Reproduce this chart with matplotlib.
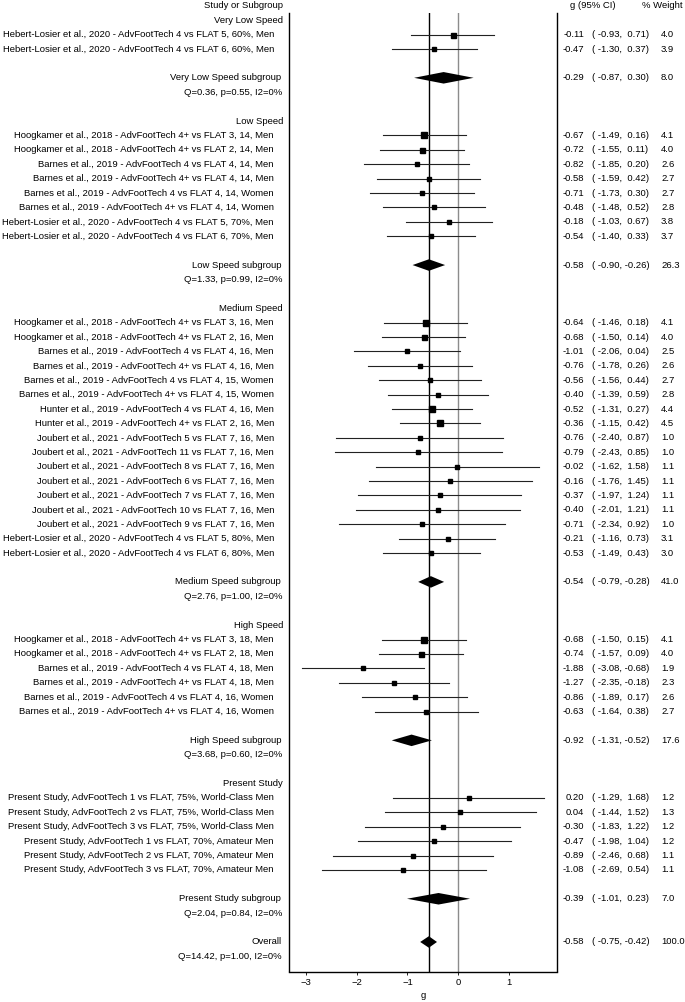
import matplotlib
matplotlib.use('Agg')
from matplotlib import pyplot as plt
from matplotlib import transforms

plt.rcParams['font.family'] = ['Liberation Sans', 'DejaVu Sans']

group_names = ['Very Low Speed', 'Low Speed', 'Medium Speed', 'High Speed', 'Present Study']

very_low_labels = [
    'Hebert-Losier et al., 2020 - AdvFootTech 4 vs FLAT 5, 60%, Men',
    'Hebert-Losier et al., 2020 - AdvFootTech 4 vs FLAT 6, 60%, Men',
]
very_low_g = [-0.11, -0.47]
very_low_lo = [-0.93, -1.30]
very_low_hi = [0.71, 0.37]
very_low_w = [4.0, 3.9]

low_labels = [
    'Hoogkamer et al., 2018 - AdvFootTech 4+ vs FLAT 3, 14, Men',
    'Hoogkamer et al., 2018 - AdvFootTech 4+ vs FLAT 2, 14, Men',
    'Barnes et al., 2019 - AdvFootTech 4 vs FLAT 4, 14, Men',
    'Barnes et al., 2019 - AdvFootTech 4+ vs FLAT 4, 14, Men',
    'Barnes et al., 2019 - AdvFootTech 4 vs FLAT 4, 14, Women',
    'Barnes et al., 2019 - AdvFootTech 4+ vs FLAT 4, 14, Women',
    'Hebert-Losier et al., 2020 - AdvFootTech 4 vs FLAT 5, 70%, Men',
    'Hebert-Losier et al., 2020 - AdvFootTech 4 vs FLAT 6, 70%, Men',
]
low_g = [-0.67, -0.72, -0.82, -0.58, -0.71, -0.48, -0.18, -0.54]
low_lo = [-1.49, -1.55, -1.85, -1.59, -1.73, -1.48, -1.03, -1.40]
low_hi = [0.16, 0.11, 0.20, 0.42, 0.30, 0.52, 0.67, 0.33]
low_w = [4.1, 4.0, 2.6, 2.7, 2.7, 2.8, 3.8, 3.7]

medium_labels = [
    'Hoogkamer et al., 2018 - AdvFootTech 4+ vs FLAT 3, 16, Men',
    'Hoogkamer et al., 2018 - AdvFootTech 4+ vs FLAT 2, 16, Men',
    'Barnes et al., 2019 - AdvFootTech 4 vs FLAT 4, 16, Men',
    'Barnes et al., 2019 - AdvFootTech 4+ vs FLAT 4, 16, Men',
    'Barnes et al., 2019 - AdvFootTech 4 vs FLAT 4, 15, Women',
    'Barnes et al., 2019 - AdvFootTech 4+ vs FLAT 4, 15, Women',
    'Hunter et al., 2019 - AdvFootTech 4 vs FLAT 4, 16, Men',
    'Hunter et al., 2019 - AdvFootTech 4+ vs FLAT 2, 16, Men',
    'Joubert et al., 2021 - AdvFootTech 5 vs FLAT 7, 16, Men',
    'Joubert et al., 2021 - AdvFootTech 11 vs FLAT 7, 16, Men',
    'Joubert et al., 2021 - AdvFootTech 8 vs FLAT 7, 16, Men',
    'Joubert et al., 2021 - AdvFootTech 6 vs FLAT 7, 16, Men',
    'Joubert et al., 2021 - AdvFootTech 7 vs FLAT 7, 16, Men',
    'Joubert et al., 2021 - AdvFootTech 10 vs FLAT 7, 16, Men',
    'Joubert et al., 2021 - AdvFootTech 9 vs FLAT 7, 16, Men',
    'Hebert-Losier et al., 2020 - AdvFootTech 4 vs FLAT 5, 80%, Men',
    'Hebert-Losier et al., 2020 - AdvFootTech 4 vs FLAT 6, 80%, Men',
]
medium_g = [-0.64, -0.68, -1.01, -0.76, -0.56, -0.40, -0.52, -0.36, -0.76,
            -0.79, -0.02, -0.16, -0.37, -0.40, -0.71, -0.21, -0.53]
medium_lo = [-1.46, -1.50, -2.06, -1.78, -1.56, -1.39, -1.31, -1.15, -2.40,
             -2.43, -1.62, -1.76, -1.97, -2.01, -2.34, -1.16, -1.49]
medium_hi = [0.18, 0.14, 0.04, 0.26, 0.44, 0.59, 0.27, 0.42, 0.87,
             0.85, 1.58, 1.45, 1.24, 1.21, 0.92, 0.73, 0.43]
medium_w = [4.1, 4.0, 2.5, 2.6, 2.7, 2.8, 4.4, 4.5, 1.0,
            1.0, 1.1, 1.1, 1.1, 1.1, 1.0, 3.1, 3.0]

high_labels = [
    'Hoogkamer et al., 2018 - AdvFootTech 4+ vs FLAT 3, 18, Men',
    'Hoogkamer et al., 2018 - AdvFootTech 4+ vs FLAT 2, 18, Men',
    'Barnes et al., 2019 - AdvFootTech 4 vs FLAT 4, 18, Men',
    'Barnes et al., 2019 - AdvFootTech 4+ vs FLAT 4, 18, Men',
    'Barnes et al., 2019 - AdvFootTech 4 vs FLAT 4, 16, Women',
    'Barnes et al., 2019 - AdvFootTech 4+ vs FLAT 4, 16, Women',
]
high_g = [-0.68, -0.74, -1.88, -1.27, -0.86, -0.63]
high_lo = [-1.50, -1.57, -3.08, -2.35, -1.89, -1.64]
high_hi = [0.15, 0.09, -0.68, -0.18, 0.17, 0.38]
high_w = [4.1, 4.0, 1.9, 2.3, 2.6, 2.7]

present_labels = [
    'Present Study, AdvFootTech 1 vs FLAT, 75%, World-Class Men',
    'Present Study, AdvFootTech 2 vs FLAT, 75%, World-Class Men',
    'Present Study, AdvFootTech 3 vs FLAT, 75%, World-Class Men',
    'Present Study, AdvFootTech 1 vs FLAT, 70%, Amateur Men',
    'Present Study, AdvFootTech 2 vs FLAT, 70%, Amateur Men',
    'Present Study, AdvFootTech 3 vs FLAT, 70%, Amateur Men',
]
present_g = [0.20, 0.04, -0.30, -0.47, -0.89, -1.08]
present_lo = [-1.29, -1.44, -1.83, -1.98, -2.46, -2.69]
present_hi = [1.68, 1.52, 1.22, 1.04, 0.68, 0.54]
present_w = [1.2, 1.3, 1.2, 1.2, 1.1, 1.1]

# subgroup summaries
sub_g = [-0.29, -0.58, -0.54, -0.92, -0.39]
sub_lo = [-0.87, -0.90, -0.79, -1.31, -1.01]
sub_hi = [0.30, -0.26, -0.28, -0.52, 0.23]
sub_w = [8.0, 26.3, 41.0, 17.6, 7.0]
sub_het = ['Q=0.36, p=0.55, I2=0%', 'Q=1.33, p=0.99, I2=0%', 'Q=2.76, p=1.00, I2=0%',
           'Q=3.68, p=0.60, I2=0%', 'Q=2.04, p=0.84, I2=0%']

overall_g = -0.58
overall_lo = -0.75
overall_hi = -0.42
overall_w = 100.0
overall_het = 'Q=14.42, p=1.00, I2=0%'

groups = [
    (very_low_labels, very_low_g, very_low_lo, very_low_hi, very_low_w),
    (low_labels, low_g, low_lo, low_hi, low_w),
    (medium_labels, medium_g, medium_lo, medium_hi, medium_w),
    (high_labels, high_g, high_lo, high_hi, high_w),
    (present_labels, present_g, present_lo, present_hi, present_w),
]

W, H = 685, 1002
fig = plt.figure(figsize=(W / 100, H / 100), dpi=100)
ax = fig.add_axes([289 / W, 1 - 971.5 / H, (557 - 289) / W, (971.5 - 13) / H])

fs = 6.8
tr = transforms.blended_transform_factory(fig.transFigure, ax.transData)


def px(x):
    return x / W


def ci_text(g, lo, hi):
    return f'{g:.2f}', f'({lo:6.2f},{hi:6.2f})'


def right_cols(row, g, lo, hi, w):
    est, ci = ci_text(g, lo, hi)
    ax.text(px(584), row, est, transform=tr, ha='right', va='center', fontsize=fs)
    ax.text(px(592), row, ci, transform=tr, ha='left', va='center', fontsize=fs)
    ax.text(px(661), row, f'{w:.1f}', transform=tr, ha='left', va='center', fontsize=fs)


def diamond(row, g, lo, hi, h=0.4):
    ax.fill([lo, g, hi, g], [row, row - h, row, row + h], color='black', lw=0, zorder=4)


ax.text(px(283), 0, 'Study or Subgroup', transform=tr, ha='right', va='center', fontsize=fs)
ax.text(px(570), 0, 'g (95% CI)', transform=tr, ha='left', va='center', fontsize=fs)
ax.text(px(642), 0, '% Weight', transform=tr, ha='left', va='center', fontsize=fs)

row = 1
for k, (labels, g, lo, hi, w) in enumerate(groups):
    ax.text(px(283), row, group_names[k], transform=tr, ha='right', va='center', fontsize=fs)
    row += 1
    for i in range(len(labels)):
        ax.text(px(274), row, labels[i], transform=tr, ha='right', va='center', fontsize=fs)
        ax.plot([lo[i], hi[i]], [row, row], color='#222222', lw=0.8, zorder=3)
        ax.plot(g[i], row, 's', color='black', ms=2.2 + 0.35 * w[i], zorder=5)
        right_cols(row, g[i], lo[i], hi[i], w[i])
        row += 1
    row += 1
    ax.text(px(281), row, group_names[k] + ' subgroup', transform=tr, ha='right',
            va='center', fontsize=fs)
    diamond(row, sub_g[k], sub_lo[k], sub_hi[k])
    right_cols(row, sub_g[k], sub_lo[k], sub_hi[k], sub_w[k])
    row += 1
    ax.text(px(282), row, sub_het[k], transform=tr, ha='right', va='center', fontsize=fs)
    row += 2

ax.text(px(282), row, 'Overall', transform=tr, ha='right', va='center', fontsize=fs)
diamond(row, overall_g, overall_lo, overall_hi)
right_cols(row, overall_g, overall_lo, overall_hi, overall_w)
ax.text(px(282), row + 1, overall_het, transform=tr, ha='right', va='center', fontsize=fs)

ax.axvline(overall_g, color='black', lw=1.0, zorder=2)
ax.axvline(0, color='#8c8c8c', lw=1.0, zorder=2)

ax.set_xlim(-3.33, 1.94)
ax.set_ylim(67.05, 0.5)
ax.set_yticks([])
ax.set_xticks([-3, -2, -1, 0, 1])
ax.tick_params(axis='x', labelsize=fs, length=2.5, width=0.6, pad=2)
ax.set_xlabel('g', fontsize=fs, labelpad=3)
ax.spines['top'].set_visible(False)
for s in ['left', 'right', 'bottom']:
    ax.spines[s].set_linewidth(1.0)

fig.savefig('out.png', dpi=100)
